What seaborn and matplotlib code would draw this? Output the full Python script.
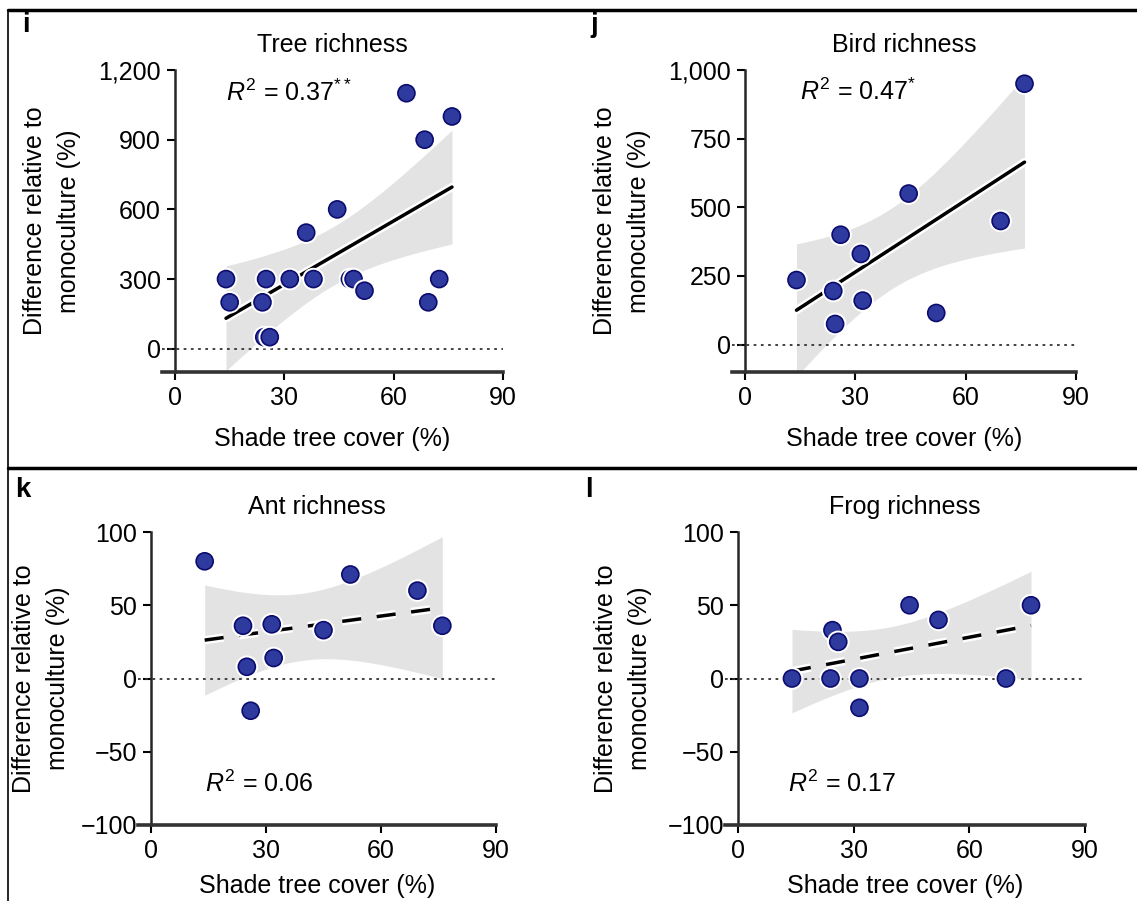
import numpy as np
import matplotlib
matplotlib.use("Agg")
import matplotlib.pyplot as plt
import matplotlib.patheffects as pe
from matplotlib.lines import Line2D
from matplotlib.ticker import StrMethodFormatter
import pandas as pd
import seaborn as sns

# %% data
tree_x = [14, 15, 24, 25, 24.5, 26, 31.5, 36, 38, 44.5, 48, 49, 52, 63.5, 68.5, 69.5, 72.5, 76]
tree_y = [300, 200, 200, 300, 50, 50, 300, 500, 300, 600, 300, 300, 250, 1100, 900, 200, 300, 1000]

bird_x = [14, 24, 24.5, 26, 31.5, 32, 44.5, 52, 69.5, 76]
bird_y = [235, 195, 75, 400, 330, 160, 550, 115, 450, 950]

ant_x = [14, 24, 25, 26, 31.5, 32, 45, 52, 69.5, 76]
ant_y = [80, 36, 8, -22, 37, 14, 33, 71, 60, 36]

frog_x = [14, 24, 24.5, 26, 31.5, 31.5, 44.5, 52, 69.5, 76]
frog_y = [0, 0, 33, 25, 0, -20, 50, 40, 0, 50]

titles = ["Tree richness", "Bird richness", "Ant richness", "Frog richness"]
letters = ["i", "j", "k", "l"]
r2_labels = [r"$R^2$ = 0.37$^{**}$", r"$R^2$ = 0.47$^{*}$", r"$R^2$ = 0.06", r"$R^2$ = 0.17"]
r2_pos = [(14, 1100), (15, 920), (14, -72), (13, -72)]
yticks = [[0, 300, 600, 900, 1200], [0, 250, 500, 750, 1000],
          [-100, -50, 0, 50, 100], [-100, -50, 0, 50, 100]]
ylims = [(-100, 1200), (-100, 1000), (-100, 100), (-100, 100)]
xticks = [0, 30, 60, 90]
significant = [True, True, False, False]

# two-sided 95% t quantiles by degrees of freedom
t95 = {8: 2.306, 16: 2.120}

# %% style
sns.set_style("ticks")
plt.rcParams['font.family'] = ['Liberation Sans', 'DejaVu Sans']
plt.rcParams['mathtext.fontset'] = 'custom'
plt.rcParams['mathtext.rm'] = 'Liberation Sans'
plt.rcParams['mathtext.it'] = 'Liberation Sans:italic'
plt.rcParams['mathtext.bf'] = 'Liberation Sans:bold'
for k in ['text.color', 'axes.labelcolor', 'xtick.color', 'ytick.color']:
    plt.rcParams[k] = 'black'

W, H = 1137, 901
fig = plt.figure(figsize=(W / 100, H / 100), dpi=100)

# pixel position of x=0, x=90, top and bottom of each axes
boxes = [(175, 503, 70, 372), (745, 1076, 70, 372),
         (151, 496, 532, 825), (738, 1085, 532, 825)]
ylab_px = [81, 651, 70, 652]
xlab_pad = [12, 12, 8, 8]
letter_xy = [(22, 25), (590, 25), (15, 490), (585, 490)]
XMIN = -3.5

datasets = [(tree_x, tree_y), (bird_x, bird_y), (ant_x, ant_y), (frog_x, frog_y)]
point_face = '#2e3a9e'
point_edge = '#0c0c6e'
FS = 18

for i, (xs, ys) in enumerate(datasets):
    x0, x90, t, b = boxes[i]
    scale = (x90 - x0) / 90
    left = x0 + XMIN * scale
    ax = fig.add_axes([left / W, 1 - b / H, (x90 - left) / W, (b - t) / H])
    df = pd.DataFrame({'x': xs, 'y': ys})

    # 95% confidence band of the linear fit
    xa = np.asarray(xs, float)
    ya = np.asarray(ys, float)
    n = len(xa)
    slope, icpt = np.polyfit(xa, ya, 1)
    resid = ya - (slope * xa + icpt)
    s = np.sqrt((resid ** 2).sum() / (n - 2))
    grid = np.linspace(xa.min(), xa.max(), 100)
    se = s * np.sqrt(1 / n + (grid - xa.mean()) ** 2 / ((xa - xa.mean()) ** 2).sum())
    fit = slope * grid + icpt
    ax.fill_between(grid, fit - t95[n - 2] * se, fit + t95[n - 2] * se,
                    color='#e3e3e3', lw=0, zorder=1)

    ls = '-' if significant[i] else (0, (5.5, 4.5))
    ax.axhline(0, color='0.2', lw=1.3, ls=(0, (1.5, 2.5)), zorder=2)
    sns.regplot(data=df, x='x', y='y', ax=ax, ci=None,
                scatter_kws=dict(s=150, facecolor=point_face, edgecolor=point_edge,
                                 linewidths=1.2, alpha=1, zorder=5,
                                 path_effects=[pe.withStroke(linewidth=4, foreground='white')]),
                line_kws=dict(color='black', lw=2.5, ls=ls, zorder=4,
                              path_effects=[pe.withStroke(linewidth=6, foreground='white')]))
    ax.set_xlim(XMIN, 90)
    ax.set_ylim(*ylims[i])
    ax.set_xticks(xticks)
    ax.set_yticks(yticks[i])
    ax.yaxis.set_major_formatter(StrMethodFormatter('{x:,.0f}'))
    ax.tick_params(labelsize=FS, length=6, width=1.5, pad=4)
    sns.despine(ax=ax)
    ax.spines['left'].set_position(('data', 0))
    ax.spines['left'].set_linewidth(1.8)
    ax.spines['bottom'].set_linewidth(2.6)
    ax.spines['bottom'].set_color('0.2')
    ax.set_title(titles[i], fontsize=FS, pad=13)
    ax.set_xlabel("Shade tree cover (%)", fontsize=FS, labelpad=xlab_pad[i])
    ax.set_ylabel("Difference relative to\nmonoculture (%)", fontsize=FS, linespacing=1.55)
    ax.yaxis.set_label_coords((ylab_px[i] - left) / (x90 - left), 0.5)
    ax.text(r2_pos[i][0], r2_pos[i][1], r2_labels[i], fontsize=FS, va='center', ha='left')
    fig.text(letter_xy[i][0] / W, 1 - letter_xy[i][1] / H, letters[i],
             fontsize=20, fontweight='bold', va='center', ha='left')

# panel frame lines
fig.add_artist(Line2D([8 / W, 1], [1 - 10 / H, 1 - 10 / H], color='black', lw=2.5))
fig.add_artist(Line2D([8 / W, 8 / W], [0, 1 - 10 / H], color='black', lw=1.2))
fig.add_artist(Line2D([8 / W, 1], [1 - 468 / H, 1 - 468 / H], color='black', lw=2.5))

fig.savefig("out.png", dpi=100)
